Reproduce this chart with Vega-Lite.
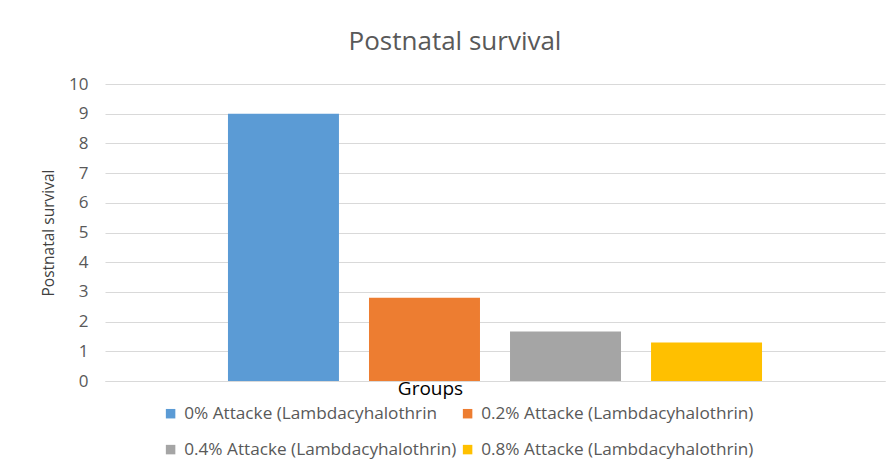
{
  "$schema": "https://vega.github.io/schema/vega-lite/v6.json",
  "width": 780,
  "height": 297,
  "autosize": "none",
  "padding": {"left": 105, "top": 84, "right": 8, "bottom": 85},
  "background": "white",
  "title": {
    "text": "Postnatal survival",
    "font": "Open Sans",
    "fontSize": 26,
    "fontWeight": "normal",
    "color": "#595959",
    "anchor": "middle",
    "dx": -40,
    "offset": 20
  },
  "data": {
    "values": [
      {"series": "0% Attacke (Lambdacyhalothrin", "value": 9},
      {"series": "0.2% Attacke (Lambdacyhalothrin)", "value": 2.8},
      {"series": "0.4% Attacke (Lambdacyhalothrin)", "value": 1.67},
      {"series": "0.8% Attacke (Lambdacyhalothrin)", "value": 1.3}
    ]
  },
  "mark": {"type": "bar"},
  "encoding": {
    "x": {
      "field": "series",
      "type": "nominal",
      "sort": null,
      "scale": {"paddingInner": 0.213, "paddingOuter": 0.872},
      "axis": {
        "title": "Groups",
        "labels": false,
        "ticks": false,
        "domainColor": "#d9d9d9",
        "titleFont": "Open Sans",
        "titleFontSize": 19,
        "titleFontWeight": "normal",
        "titleColor": "#000000",
        "titlePadding": -2,
        "titleX": 325,
        "titleAlign": "center"
      }
    },
    "y": {
      "field": "value",
      "type": "quantitative",
      "scale": {"domain": [0, 10]},
      "axis": {
        "title": "Postnatal survival",
        "values": [0, 1, 2, 3, 4, 5, 6, 7, 8, 9, 10],
        "labelOverlap": false,
        "domain": false,
        "ticks": false,
        "gridColor": "#d9d9d9",
        "labelFont": "Open Sans",
        "labelFontSize": 17,
        "labelColor": "#595959",
        "labelPadding": 17,
        "titleFont": "Open Sans",
        "titleFontSize": 15.5,
        "titleFontWeight": "normal",
        "titleColor": "#404040",
        "titlePadding": 12
      }
    },
    "color": {
      "field": "series",
      "type": "nominal",
      "sort": null,
      "scale": {"range": ["#5B9BD5", "#ED7D31", "#A5A5A5", "#FFC000"]},
      "legend": {
        "title": null,
        "orient": "none",
        "legendX": 57,
        "legendY": 321,
        "direction": "horizontal",
        "columns": 2,
        "symbolType": "square",
        "symbolSize": 90,
        "symbolStrokeWidth": 0,
        "labelFont": "Open Sans",
        "labelFontSize": 17.2,
        "labelColor": "#595959",
        "labelOffset": 5,
        "labelLimit": 400,
        "columnPadding": 2,
        "rowPadding": 18
      }
    }
  },
  "config": {"view": {"stroke": null}}
}
